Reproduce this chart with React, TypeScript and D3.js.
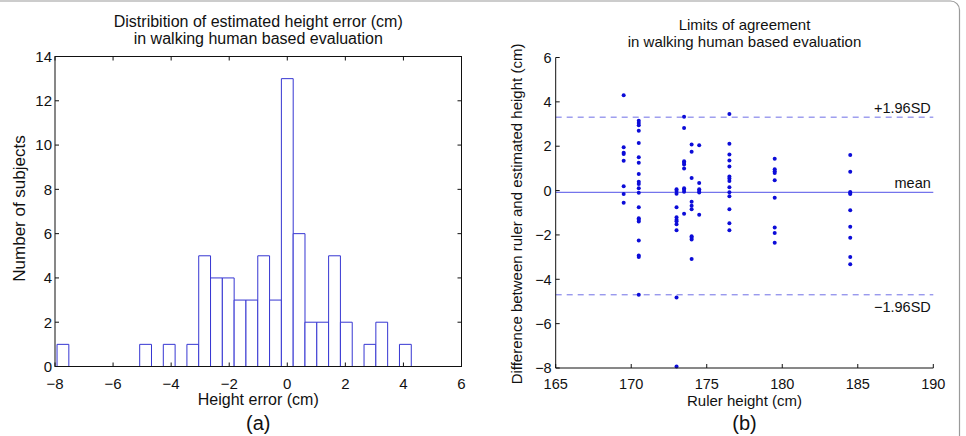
import React, { useEffect, useRef } from 'react';
import * as d3 from 'd3';

// histogram: 30 equal-width bins between the smallest and largest height error
const errorMin = -7.93;
const errorMax = 4.27;
const binCounts = [1, 0, 0, 0, 0, 0, 0, 1, 0, 1, 0, 1, 5, 4, 4, 3, 3, 5, 3, 13, 6, 2, 2, 5, 2, 0, 1, 2, 0, 1];
const histXTicks = [-8, -6, -4, -2, 0, 2, 4, 6];
const histYTicks = [0, 2, 4, 6, 8, 10, 12, 14];

// limits of agreement: differences grouped by ruler height
const rulerHeights = [169.5, 170.5, 173, 173.5, 174, 174.5, 176.5, 179.5, 184.5];
const differences = [
  [4.3, 1.95, 1.7, 1.65, 1.35, 0.2, -0.15, -0.55],
  [3.15, 3.05, 2.95, 2.7, 2.15, 1.5, 1.25, 0.75, 0.4, 0.3, 0.1, -0.1, -0.75, -1.25, -1.32, -1.4, -2.25, -2.93, -3.0, -4.7],
  [0.06, -0.02, -0.14, -0.75, -1.2, -1.31, -1.38, -1.52, -1.79, -4.82, -7.93],
  [3.33, 2.82, 1.32, 1.26, 1.18, 0.99, 0.1, 0.04, -0.05, -1.04],
  [2.08, 1.75, 0.57, -0.5, -0.68, -0.84, -2.06, -2.13, -2.21, -3.08],
  [2.04, 0.34, 0.06, -0.02, -0.09, -1.09],
  [3.45, 2.11, 1.63, 1.36, 1.08, 0.63, 0.54, 0.43, 0.15, -0.08, -0.26, -0.84, -1.47, -1.79],
  [1.44, 0.96, 0.87, 0.79, 0.46, -0.32, -1.67, -1.91, -2.35],
  [1.6, 0.85, -0.06, -0.11, -0.15, -0.89, -1.63, -2.13, -3.0, -3.32],
];
const meanDiff = -0.08;
const upperLimit = 3.31;
const lowerLimit = -4.7;
const baXTicks = [165, 170, 175, 180, 185, 190];
const baYTicks = [-8, -6, -4, -2, 0, 2, 4, 6];

const FONT = '"Liberation Sans", Arial, Helvetica, sans-serif';
const fmt = (v: number) => (v < 0 ? '\u2212' + Math.abs(v) : String(v));

type G = d3.Selection<SVGGElement, unknown, null, undefined>;

function drawHistogram(g: G) {
  const left = 55, right = 461.5, top = 56.5, bottom = 366.5;
  const x = d3.scaleLinear().domain([-8, 6]).range([left, right]);
  const y = d3.scaleLinear().domain([0, 14]).range([bottom, top]);
  const binWidth = (errorMax - errorMin) / binCounts.length;

  // bars (zero-count bins still leave their outline on the baseline)
  g.append('g')
    .selectAll('path')
    .data(binCounts)
    .join('path')
    .attr('d', (c, i) => {
      const x0 = x(errorMin + i * binWidth);
      const x1 = x(errorMin + (i + 1) * binWidth);
      return `M${x0},${y(0)}V${y(c)}H${x1}V${y(0)}Z`;
    })
    .attr('fill', 'white')
    .attr('stroke', '#3636d2')
    .attr('stroke-width', 1);

  // box
  g.append('rect')
    .attr('x', left).attr('y', top)
    .attr('width', right - left).attr('height', bottom - top)
    .attr('fill', 'none').attr('stroke', '#111').attr('stroke-width', 1);

  const ticks = g.append('g').attr('stroke', '#111').attr('stroke-width', 1);
  histXTicks.forEach((t) => {
    ticks.append('line').attr('x1', x(t)).attr('x2', x(t)).attr('y1', bottom).attr('y2', bottom - 4);
    ticks.append('line').attr('x1', x(t)).attr('x2', x(t)).attr('y1', top).attr('y2', top + 4);
  });
  histYTicks.forEach((t) => {
    ticks.append('line').attr('x1', left).attr('x2', left + 4).attr('y1', y(t)).attr('y2', y(t));
    ticks.append('line').attr('x1', right).attr('x2', right - 4).attr('y1', y(t)).attr('y2', y(t));
  });

  const tl = g.append('g').attr('font-size', 15);
  tl.append('g').selectAll('text').data(histXTicks).join('text')
    .attr('x', (d) => x(d)).attr('y', 389)
    .attr('text-anchor', 'middle').text(fmt);
  tl.append('g').selectAll('text').data(histYTicks).join('text')
    .attr('x', left - 3).attr('y', (d) => y(d)).attr('dy', '0.36em')
    .attr('text-anchor', 'end').text(fmt);

  const cx = (left + right) / 2;
  const labels = g.append('g').attr('font-size', 16);
  labels.append('text').attr('x', cx).attr('y', 27).attr('text-anchor', 'middle')
    .text('Distribition of estimated height error (cm)');
  labels.append('text').attr('x', cx).attr('y', 44).attr('text-anchor', 'middle')
    .text('in walking human based evaluation');
  labels.append('text').attr('x', cx).attr('y', 405).attr('text-anchor', 'middle')
    .text('Height error (cm)');
  labels.append('text').attr('transform', `translate(25,${(top + bottom) / 2 - 3}) rotate(-90)`)
    .attr('text-anchor', 'middle').attr('font-size', 17).text('Number of subjects');
  g.append('text').attr('x', cx).attr('y', 430).attr('text-anchor', 'middle')
    .attr('font-size', 20).text('(a)');
}

function drawAgreement(g: G) {
  const left = 555.7, right = 933.3, top = 57.5, bottom = 368;
  const x = d3.scaleLinear().domain([165, 190]).range([left, right]);
  const y = d3.scaleLinear().domain([-8, 6]).range([bottom, top]);

  // mean and +/-1.96 SD lines
  g.append('line')
    .attr('x1', left).attr('x2', right).attr('y1', y(meanDiff)).attr('y2', y(meanDiff))
    .attr('stroke', '#7474ec').attr('stroke-width', 1.2);
  [upperLimit, lowerLimit].forEach((v) => {
    g.append('line')
      .attr('x1', left).attr('x2', right).attr('y1', y(v)).attr('y2', y(v))
      .attr('stroke', '#6e6ee6').attr('stroke-width', 1).attr('stroke-dasharray', '6,5');
  });

  const points = rulerHeights.flatMap((h, i) => differences[i].map((d) => [h, d] as [number, number]));
  g.append('g').selectAll('circle').data(points).join('circle')
    .attr('cx', (d) => x(d[0])).attr('cy', (d) => y(d[1])).attr('r', 2)
    .attr('fill', '#0c0cd8');

  // axes: left and bottom only
  const ax = g.append('g').attr('stroke', '#111').attr('stroke-width', 1);
  ax.append('line').attr('x1', left).attr('x2', left).attr('y1', top).attr('y2', bottom);
  ax.append('line').attr('x1', left).attr('x2', right).attr('y1', bottom).attr('y2', bottom);
  baXTicks.forEach((t) => {
    ax.append('line').attr('x1', x(t)).attr('x2', x(t)).attr('y1', bottom).attr('y2', bottom - 4);
  });
  baYTicks.forEach((t) => {
    ax.append('line').attr('x1', left).attr('x2', left + 4).attr('y1', y(t)).attr('y2', y(t));
  });

  const tl = g.append('g').attr('font-size', 14.5);
  tl.append('g').selectAll('text').data(baXTicks).join('text')
    .attr('x', (d) => x(d)).attr('y', 388.5)
    .attr('text-anchor', 'middle').text(fmt);
  tl.append('g').selectAll('text').data(baYTicks).join('text')
    .attr('x', left - 4).attr('y', (d) => y(d)).attr('dy', '0.36em')
    .attr('text-anchor', 'end').text(fmt);

  const lx = x(190) - 2.5;
  tl.append('text').attr('x', lx).attr('y', y(upperLimit) - 4.5).attr('text-anchor', 'end').text('+1.96SD');
  tl.append('text').attr('x', lx).attr('y', y(meanDiff) - 4.5).attr('text-anchor', 'end').text('mean');
  tl.append('text').attr('x', lx).attr('y', y(lowerLimit) + 17.5).attr('text-anchor', 'end').text('\u22121.96SD');

  const cx = (left + right) / 2;
  const labels = g.append('g').attr('font-size', 15);
  labels.append('text').attr('x', cx).attr('y', 29.5).attr('text-anchor', 'middle').text('Limits of agreement');
  labels.append('text').attr('x', cx).attr('y', 47).attr('text-anchor', 'middle')
    .text('in walking human based evaluation');
  labels.append('text').attr('x', cx).attr('y', 405.5).attr('text-anchor', 'middle').text('Ruler height (cm)');
  labels.append('text').attr('transform', `translate(522,214) rotate(-90)`)
    .attr('text-anchor', 'middle').text('Difference between ruler and estimated height (cm)');
  g.append('text').attr('x', cx).attr('y', 430).attr('text-anchor', 'middle')
    .attr('font-size', 20).text('(b)');
}

export default function App() {
  const ref = useRef<SVGSVGElement>(null);

  useEffect(() => {
    const svg = d3.select(ref.current!);
    svg.selectAll('*').remove();
    svg.append('rect').attr('width', 966).attr('height', 436).attr('fill', 'white');
    // panel frame
    svg.append('rect')
      .attr('x', -20).attr('y', 1).attr('width', 979.5).attr('height', 480)
      .attr('rx', 9).attr('fill', 'none').attr('stroke', '#9a9a9a').attr('stroke-width', 1.2);
    const root = svg.append('g').attr('font-family', FONT).attr('font-size', 14).attr('fill', '#111');
    drawHistogram(root.append('g'));
    drawAgreement(root.append('g'));
  }, []);

  return (
    <svg
      ref={ref}
      width={966}
      height={436}
      style={{ position: 'absolute', left: 0, top: 0, display: 'block' }}
    />
  );
}
